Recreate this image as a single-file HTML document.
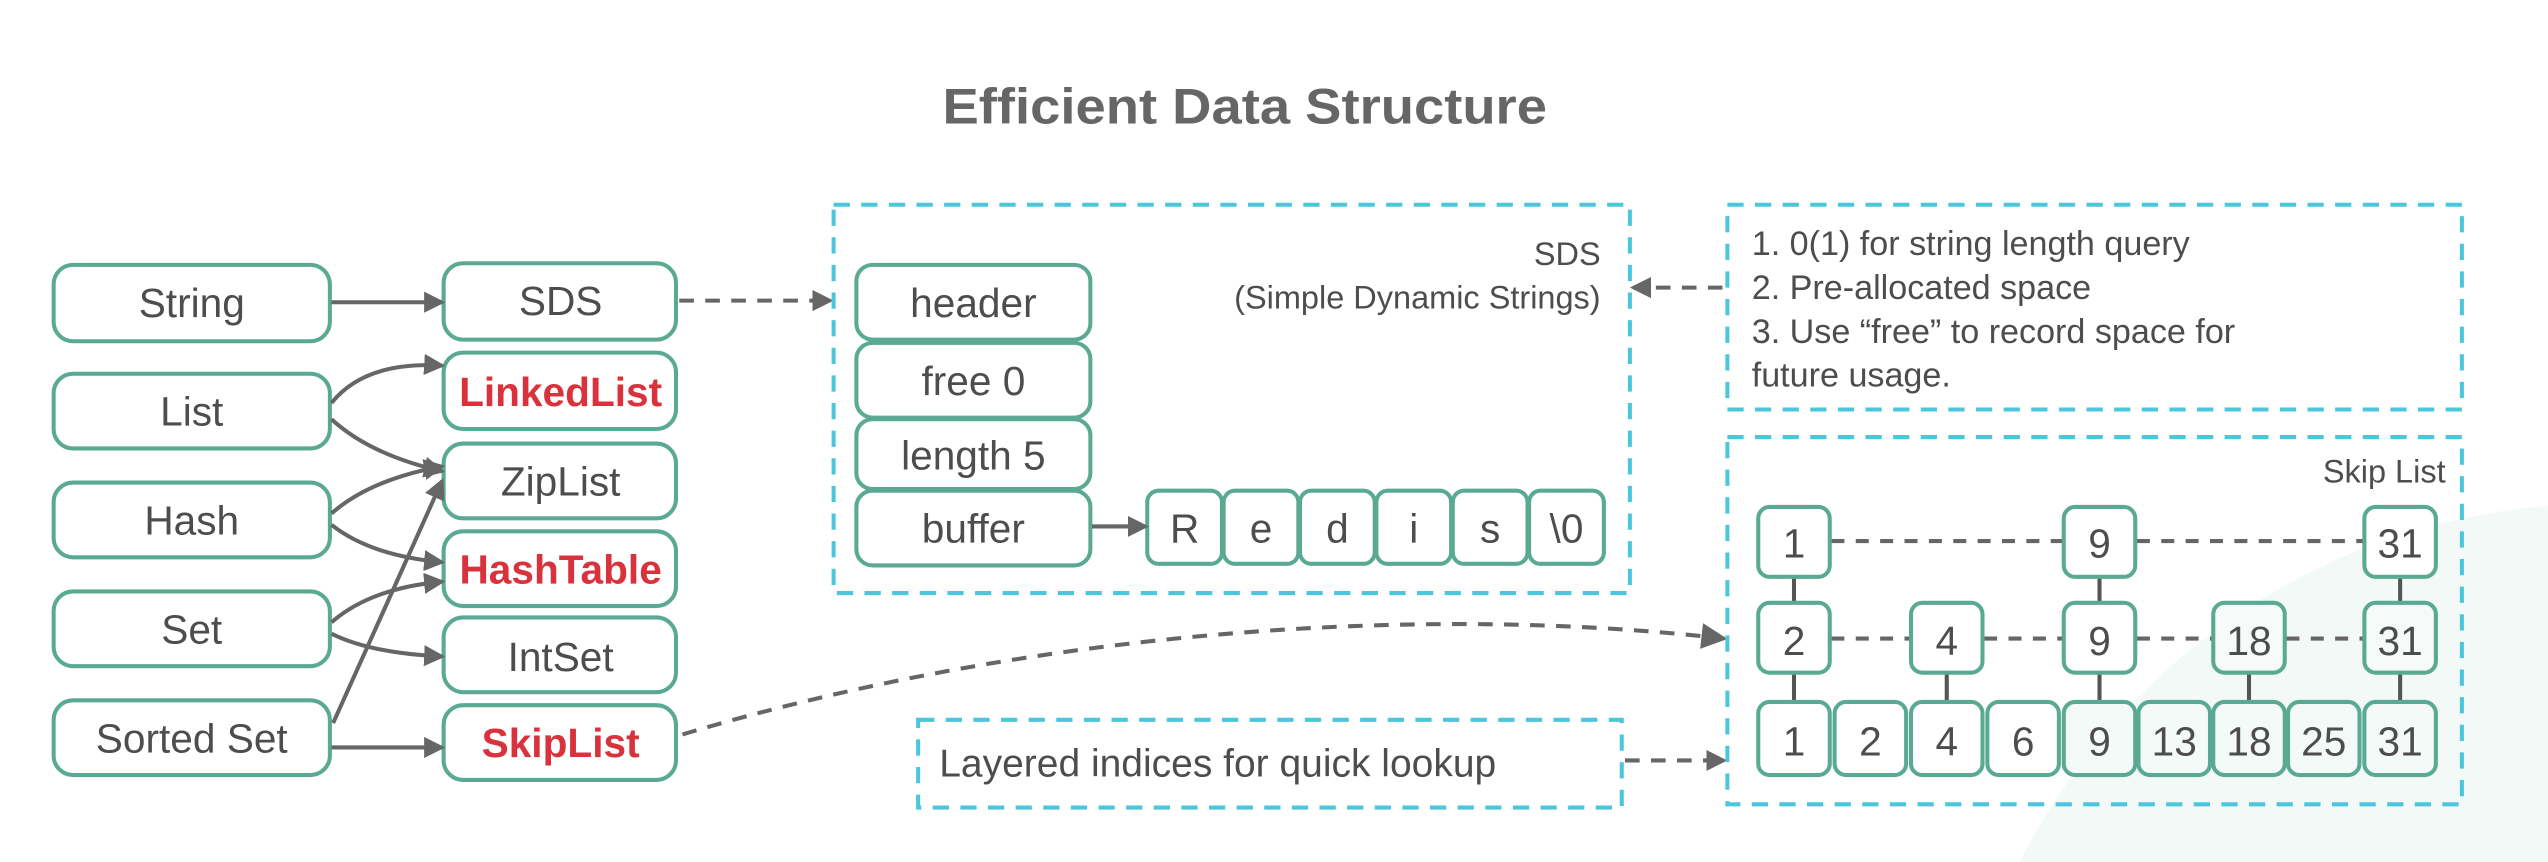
<!DOCTYPE html>
<html><head><meta charset="utf-8"><style>
html,body{margin:0;padding:0;background:#fff;width:2548px;height:862px;overflow:hidden}
svg{display:block;overflow:hidden}
text{font-family:"Liberation Sans",sans-serif;fill:#4d4d4d}
</style></head><body>
<svg width="2548" height="862" viewBox="0 0 1568 530.5" preserveAspectRatio="none" xmlns="http://www.w3.org/2000/svg">
<defs>
<marker id="ah" markerWidth="13" markerHeight="13" refX="11" refY="6.5" orient="auto" markerUnits="userSpaceOnUse"><path d="M0,0 L13,6.5 L0,13 z" fill="#666"/></marker>
<marker id="ah2" markerWidth="16" markerHeight="16" refX="14" refY="8" orient="auto" markerUnits="userSpaceOnUse"><path d="M0,0 L16,8 L0,16 z" fill="#666"/></marker>
</defs>
<path d="M1243,530.5 A400,400 0 0 1 1568,311.3 L1568,530.5 Z" fill="#f3f9f6"/>
<text x="766" y="76" font-size="31" font-weight="bold" text-anchor="middle" style="fill:#666" textLength="372" lengthAdjust="spacingAndGlyphs">Efficient Data Structure</text>

<g fill="#fff" stroke="#5aaa93" stroke-width="2.5">
<rect x="33" y="163" width="170" height="47" rx="12"/>
<rect x="33" y="230" width="170" height="46" rx="12"/>
<rect x="33" y="297" width="170" height="46" rx="12"/>
<rect x="33" y="364" width="170" height="46" rx="12"/>
<rect x="33" y="431" width="170" height="46" rx="12"/>
<rect x="273" y="162" width="143" height="47" rx="12"/>
<rect x="273" y="217" width="143" height="47" rx="12"/>
<rect x="273" y="273" width="143" height="46" rx="12"/>
<rect x="273" y="327" width="143" height="46" rx="12"/>
<rect x="273" y="380" width="143" height="46" rx="12"/>
<rect x="273" y="434" width="143" height="46" rx="12"/>
<rect x="527" y="163" width="144" height="46" rx="10"/>
<rect x="527" y="211" width="144" height="46" rx="10"/>
<rect x="527" y="258" width="144" height="43" rx="10"/>
<rect x="527" y="302" width="144" height="46" rx="10"/>
<rect x="706" y="302" width="46" height="45" rx="7"/>
<rect x="753" y="302" width="46" height="45" rx="7"/>
<rect x="800" y="302" width="46" height="45" rx="7"/>
<rect x="847" y="302" width="46" height="45" rx="7"/>
<rect x="894" y="302" width="46" height="45" rx="7"/>
<rect x="941" y="302" width="46" height="45" rx="7"/>
</g>
<g font-size="25" text-anchor="middle">
<text x="118" y="195">String</text>
<text x="118" y="262">List</text>
<text x="118" y="329">Hash</text>
<text x="118" y="396">Set</text>
<text x="118" y="463">Sorted Set</text>
<text x="345" y="194">SDS</text>
<text x="345" y="250" font-weight="bold" style="fill:#d9323c">LinkedList</text>
<text x="345" y="305">ZipList</text>
<text x="345" y="359" font-weight="bold" style="fill:#d9323c">HashTable</text>
<text x="345" y="413">IntSet</text>
<text x="345" y="466" font-weight="bold" style="fill:#d9323c">SkipList</text>
<text x="599" y="195">header</text>
<text x="599" y="243">free 0</text>
<text x="599" y="289">length 5</text>
<text x="599" y="334">buffer</text>
<text x="729" y="334">R</text>
<text x="776" y="334">e</text>
<text x="823" y="334">d</text>
<text x="870" y="334">i</text>
<text x="917" y="334">s</text>
<text x="964" y="334">\0</text>
</g>

<g stroke="#666" stroke-width="2.5" fill="none" marker-end="url(#ah)">
<line x1="204" y1="186" x2="272" y2="186"/>
<path d="M204,248 Q225,222 272,225"/>
<path d="M204,258 Q228,280 272,290"/>
<path d="M204,316 Q228,295 272,287"/>
<path d="M204,323 Q228,342 272,346"/>
<path d="M204,383 Q228,362 272,358"/>
<path d="M204,390 Q228,402 272,404"/>
<path d="M205,445 L272,296"/>
<line x1="204" y1="460" x2="272" y2="460"/>
<line x1="672" y1="324" x2="705" y2="324"/>
</g>
<g stroke="#666" stroke-width="2.5" fill="none" stroke-dasharray="9,7">
<line x1="418" y1="185" x2="511" y2="185" marker-end="url(#ah)"/>
<line x1="1060" y1="177" x2="1005" y2="177" marker-end="url(#ah)"/>
<line x1="1000" y1="468" x2="1061" y2="468" marker-end="url(#ah)"/>
<path d="M420,452 C620,392 860,370 1061,393" marker-end="url(#ah2)"/>
</g>

<g fill="none" stroke="#4cc6dc" stroke-width="2.5" stroke-dasharray="10,7">
<rect x="513" y="126" width="490" height="239"/>
<rect x="1063" y="126" width="452" height="126"/>
<rect x="1063" y="269" width="452" height="226"/>
<rect x="565" y="443" width="433" height="54"/>
</g>
<g font-size="20" text-anchor="end">
<text x="985" y="163">SDS</text>
<text x="985" y="190">(Simple Dynamic Strings)</text>
<text x="1505" y="297">Skip List</text>
</g>
<g font-size="21">
<text x="1078" y="157">1. 0(1) for string length query</text>
<text x="1078" y="184">2. Pre-allocated space</text>
<text x="1078" y="211">3. Use “free” to record space for</text>
<text x="1078" y="238">future usage.</text>
<text x="578" y="478" font-size="24">Layered indices for quick lookup</text>
</g>

<g stroke="#555" stroke-width="2.5" fill="none">
<line x1="1104" y1="355" x2="1104" y2="432"/>
<line x1="1292" y1="355" x2="1292" y2="432"/>
<line x1="1477" y1="355" x2="1477" y2="432"/>
<line x1="1198" y1="414" x2="1198" y2="432"/>
<line x1="1384" y1="414" x2="1384" y2="432"/>
</g>
<g stroke="#666" stroke-width="2.5" stroke-dasharray="8,7" fill="none">
<line x1="1127" y1="333" x2="1269" y2="333"/>
<line x1="1315" y1="333" x2="1454" y2="333"/>
<line x1="1127" y1="393" x2="1175" y2="393"/>
<line x1="1221" y1="393" x2="1269" y2="393"/>
<line x1="1315" y1="393" x2="1361" y2="393"/>
<line x1="1407" y1="393" x2="1454" y2="393"/>
</g>
<g fill="#fff" stroke="#5aaa93" stroke-width="2.5">
<rect x="1082" y="312" width="44" height="43" rx="7"/>
<rect x="1270" y="312" width="44" height="43" rx="7"/>
<rect x="1455" y="312" width="44" height="43" rx="7"/>
<rect x="1082" y="371" width="44" height="43" rx="7"/>
<rect x="1176" y="371" width="44" height="43" rx="7"/>
<rect x="1270" y="371" width="44" height="43" rx="7"/>
<rect x="1362" y="371" width="44" height="43" rx="7" fill="#f6fbf9"/>
<rect x="1455" y="371" width="44" height="43" rx="7" fill="#f6fbf9"/>
<rect x="1082" y="432" width="44" height="45" rx="7"/>
<rect x="1129" y="432" width="44" height="45" rx="7"/>
<rect x="1176" y="432" width="44" height="45" rx="7"/>
<rect x="1223" y="432" width="44" height="45" rx="7"/>
<rect x="1270" y="432" width="44" height="45" rx="7" fill="#f4faf7"/>
<rect x="1316" y="432" width="44" height="45" rx="7" fill="#f4faf7"/>
<rect x="1362" y="432" width="44" height="45" rx="7" fill="#f4faf7"/>
<rect x="1408" y="432" width="44" height="45" rx="7" fill="#f4faf7"/>
<rect x="1455" y="432" width="44" height="45" rx="7" fill="#f4faf7"/>
</g>
<g font-size="25" text-anchor="middle">
<text x="1104" y="343">1</text>
<text x="1292" y="343">9</text>
<text x="1477" y="343">31</text>
<text x="1104" y="403">2</text>
<text x="1198" y="403">4</text>
<text x="1292" y="403">9</text>
<text x="1384" y="403">18</text>
<text x="1477" y="403">31</text>
<text x="1104" y="465">1</text>
<text x="1151" y="465">2</text>
<text x="1198" y="465">4</text>
<text x="1245" y="465">6</text>
<text x="1292" y="465">9</text>
<text x="1338" y="465">13</text>
<text x="1384" y="465">18</text>
<text x="1430" y="465">25</text>
<text x="1477" y="465">31</text>
</g>
</svg>
</body></html>
